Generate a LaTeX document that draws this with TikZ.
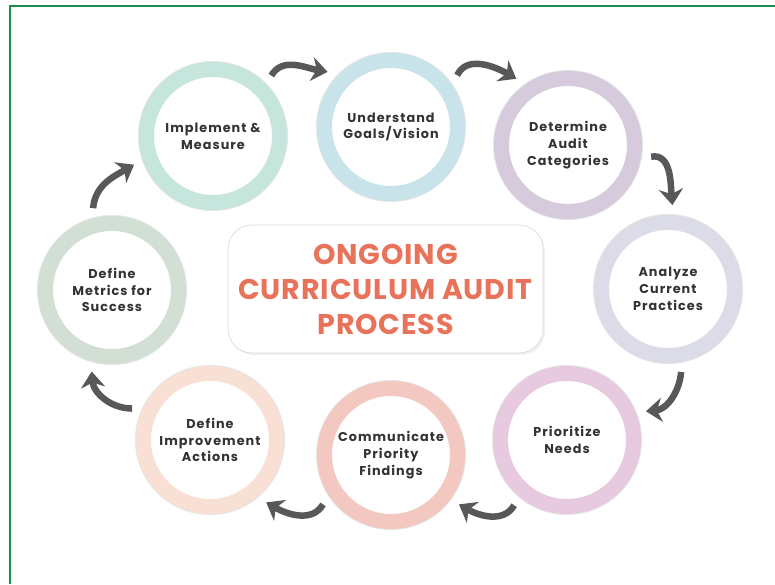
\documentclass[tikz,border=0pt]{standalone}
\usepackage{fontspec}
\setmainfont{Poppins}
\newfontfamily\ringfont[LetterSpace=8]{Poppins}
\newfontfamily\hubfont[LetterSpace=3]{Poppins}
\usetikzlibrary{arrows.meta,shadows}
\definecolor{ringmint}{HTML}{C6E5DD}
\definecolor{ringblue}{HTML}{C9E3EA}
\definecolor{ringlilac}{HTML}{D6CADD}
\definecolor{ringgrey}{HTML}{DCDCE8}
\definecolor{ringorchid}{HTML}{E7CADF}
\definecolor{ringsalmon}{HTML}{F3C8C1}
\definecolor{ringpeach}{HTML}{F8E0D5}
\definecolor{ringsage}{HTML}{D2DFD4}
\definecolor{ringtext}{HTML}{333335}
\definecolor{titleorange}{HTML}{E8735A}
\definecolor{arrowgrey}{HTML}{58585A}
\definecolor{framegreen}{HTML}{1E8C4E}

\begin{document}
\begin{tikzpicture}[x=1pt,y=1pt,
  ring/.style={circle,minimum size=133pt,inner sep=0pt,line width=15pt,
               outer sep=17.5pt,fill=white,align=center,text=ringtext,
               font=\ringfont\bfseries\fontsize{12.8}{16.8}\selectfont,
               preaction={draw=black!10,line width=17pt}},
  hub/.style={rectangle,rounded corners=24pt,minimum width=315pt,
              minimum height=128pt,draw=black!15,line width=0.6pt,fill=white,
              drop shadow={opacity=0.12,shadow xshift=2pt,shadow yshift=-2pt},
              text=titleorange,align=center,
              font=\hubfont\bfseries\fontsize{28.5}{35}\selectfont},
  cyc/.style={draw=arrowgrey,line width=6.5pt,
              -{Stealth[width=24pt,length=16pt,inset=5pt]}}
]
\useasboundingbox (0,0) rectangle (775,584);

% ---- Frame --------------------------------------------------
\draw[framegreen,line width=2pt] (10,0) |- (775,578);

% ---- Centre box ---------------------------------------------
\node[hub] (hub) at (385.5,295) {ONGOING\\CURRICULUM AUDIT\\PROCESS};

% ---- Cycle of steps -----------------------------------------
\node[ring,draw=ringmint]   (c1) at (213,448) {Implement \&\\Measure};
\node[ring,draw=ringblue]   (c2) at (391,457) {Understand\\Goals/Vision};
\node[ring,draw=ringlilac]  (c3) at (568,439) {Determine\\Audit\\Categories};
\node[ring,draw=ringgrey]   (c4) at (668,295) {Analyze\\Current\\Practices};
\node[ring,draw=ringorchid] (c5) at (567,144) {Prioritize\\Needs};
\node[ring,draw=ringsalmon] (c6) at (391,129) {Communicate\\Priority\\Findings};
\node[ring,draw=ringpeach]  (c7) at (210,144) {Define\\Improvement\\Actions};
\node[ring,draw=ringsage]   (c8) at (112,294) {Define\\Metrics for\\Success};

% ---- Arrows between steps -----------------------------------
\draw[cyc] (c1.46)   to[out=60,in=170]   (c2.139);
\draw[cyc] (c2.38)   to[out=65,in=150]   (c3.128);
\draw[cyc] (c3.-8)   to[out=10,in=95]    (c4.87);
\draw[cyc] (c4.-81)  to[out=-95,in=5]    (c5.20);
\draw[cyc] (c5.-129) to[out=-120,in=-30] (c6.-36);
\draw[cyc] (c6.-144) to[out=-120,in=-30] (c7.-48);
\draw[cyc] (c7.158)  to[out=180,in=-85]  (c8.-104);
\draw[cyc] (c8.103)  to[out=85,in=-150]  (c1.-160);

\end{tikzpicture}
\end{document}
